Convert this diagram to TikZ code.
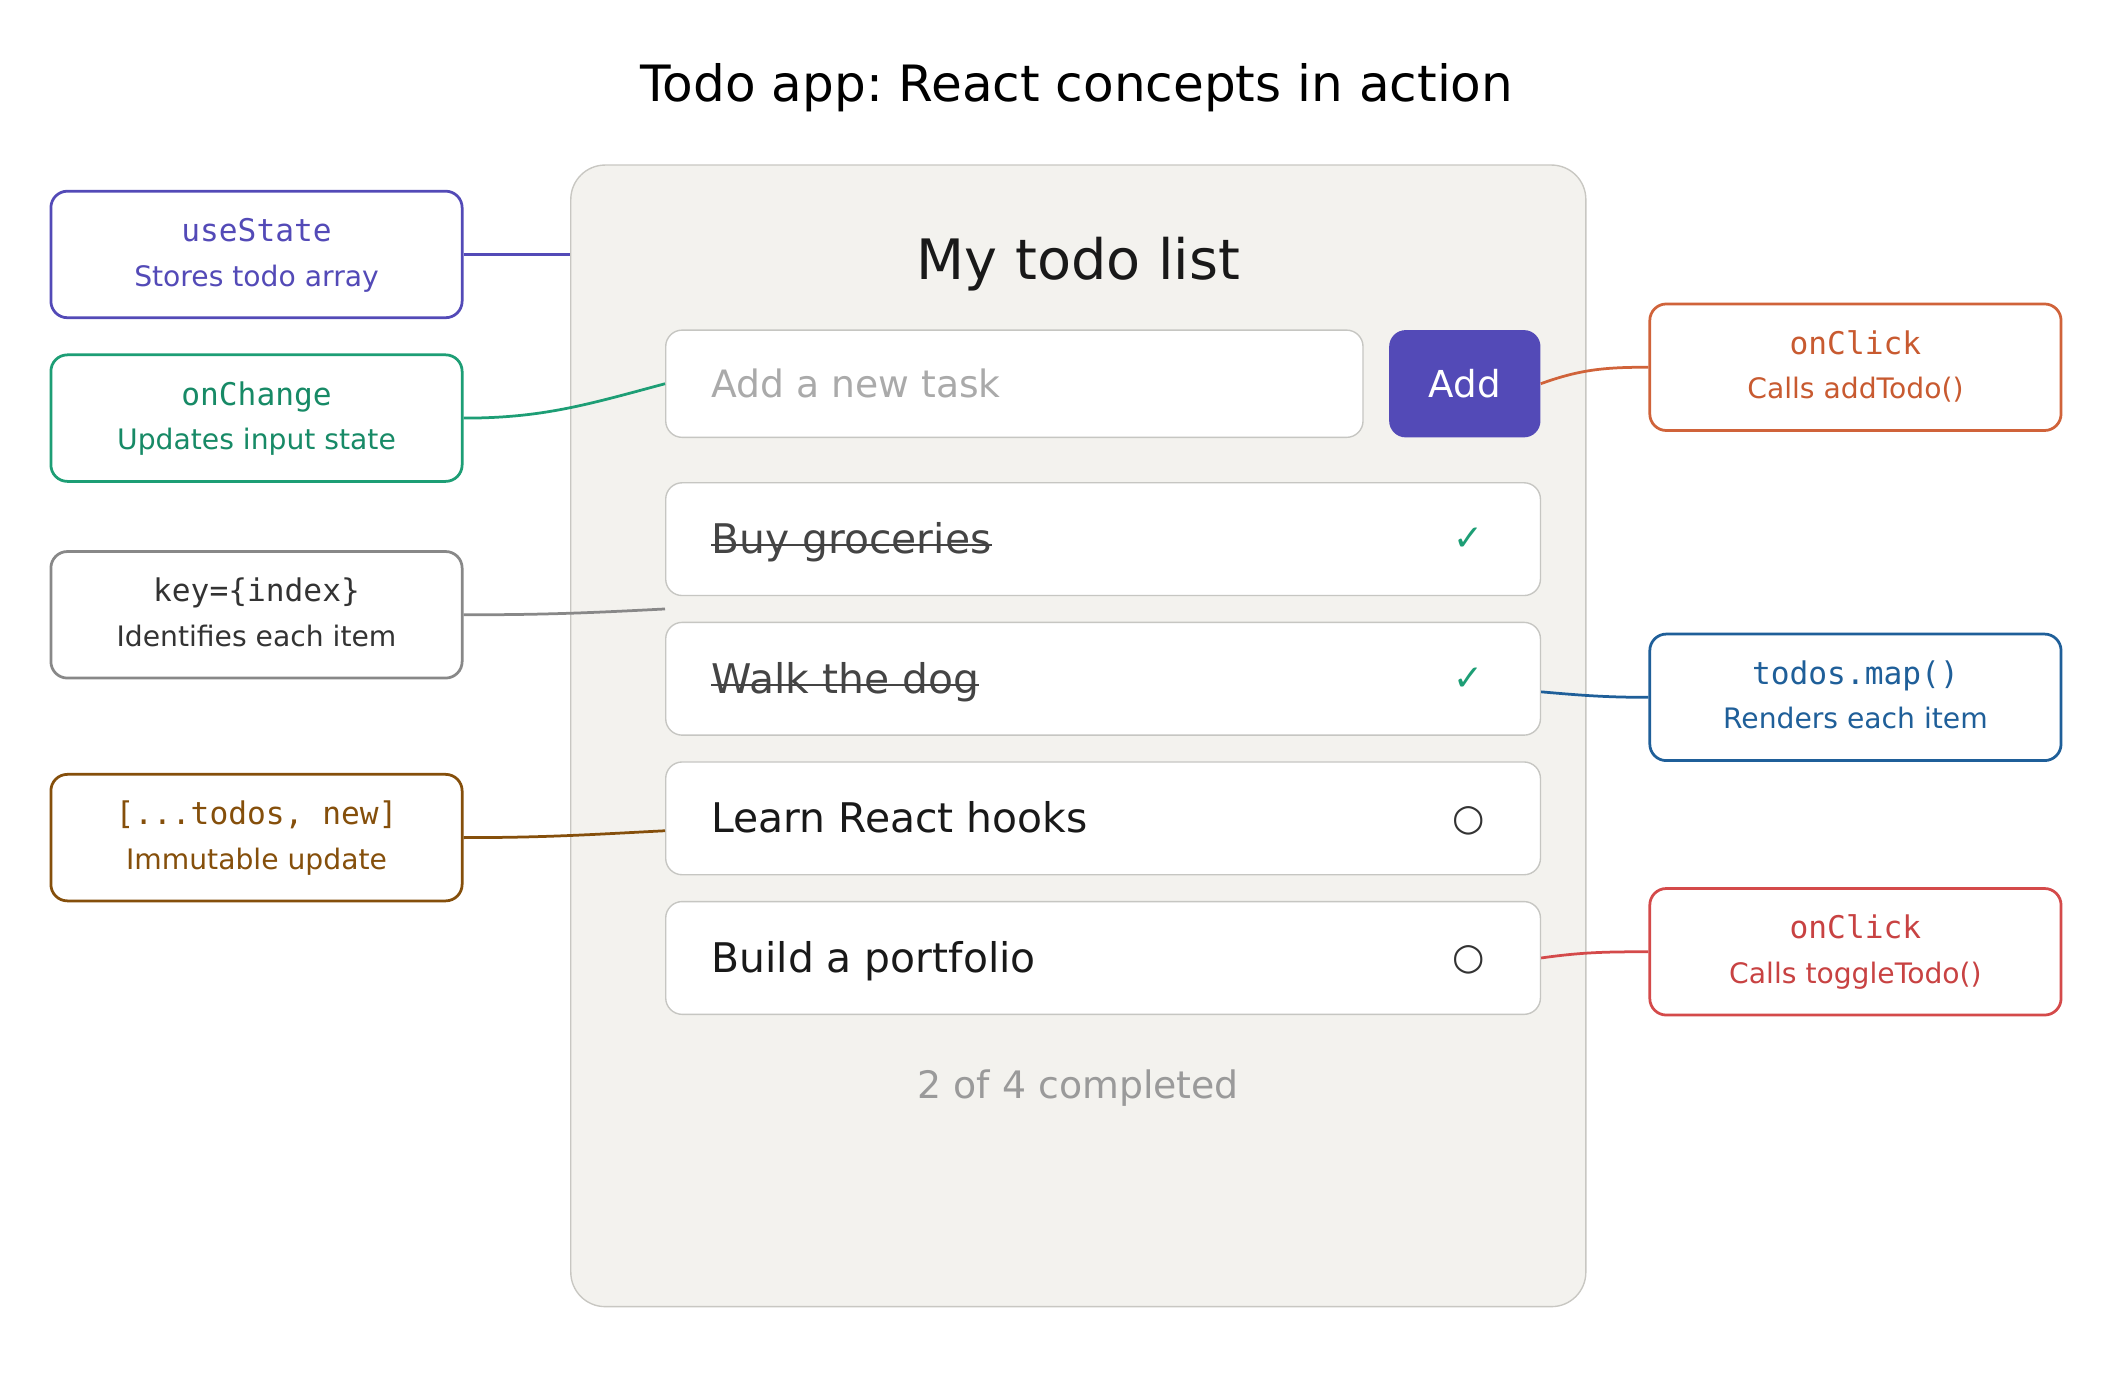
\documentclass[tikz,border=0pt]{standalone}
\usepackage{fontspec}
\setmainfont{DejaVu Sans}
\setmonofont{DejaVu Sans Mono}
\usetikzlibrary{calc}
\frenchspacing
\definecolor{cpurple}{HTML}{534AB7}
\definecolor{cgreen}{HTML}{1D9E75}
\definecolor{cgreent}{HTML}{178A66}
\definecolor{cgray}{HTML}{888888}
\definecolor{cgrayt}{HTML}{333333}
\definecolor{cbrown}{HTML}{854F0B}
\definecolor{corange}{HTML}{D0633A}
\definecolor{coranget}{HTML}{C85A30}
\definecolor{cblue}{HTML}{1F5F99}
\definecolor{cred}{HTML}{D44A4A}
\definecolor{credt}{HTML}{C84242}
\definecolor{panelfill}{HTML}{F3F2EE}
\definecolor{panelborder}{HTML}{C8C7C2}
\definecolor{itemborder}{HTML}{C6C6C2}
\definecolor{donetext}{HTML}{444444}
\definecolor{mutedtext}{HTML}{9A9A9A}
\definecolor{placeholder}{HTML}{AAAAAA}
\begin{document}
\frenchspacing
\begin{tikzpicture}[x=1pt,y=-1pt,
  fsz/.style={font=\fontsize{#1}{#1}\selectfont\frenchspacing},
  annot/.style={draw=#1, line width=2pt, rounded corners=12pt, fill=white,
    minimum width=299pt, minimum height=92pt, inner sep=0pt},
  todoitem/.style={draw=itemborder, line width=1pt, fill=white, rounded corners=12pt,
    minimum width=636pt, minimum height=82pt, inner sep=0pt},
  monolabel/.style={inner sep=0pt, anchor=base, font=\fontsize{22.7}{22.7}\selectfont\ttfamily, text=#1},
  sublabel/.style={inner sep=0pt, anchor=base, fsz=20.5, text=#1},
  itemtext/.style={inner sep=0pt, anchor=base west, fsz=29.7, text=#1},
  conn/.style={draw=#1, line width=2pt},
  checkmark/.style={inner sep=0pt, fsz=26, text=cgreen},
  openmark/.style={inner sep=0pt, fsz=27, text=cgrayt},
]
\useasboundingbox (0,0) rectangle (1545,1000);
\fill[white] (0,0) rectangle (1545,1000);

% title
\node[inner sep=0pt, anchor=base, fsz=36.4, text=black] (title) at (783,74) {Todo app: React concepts in action};

% panel
\node[draw=panelborder, fill=panelfill, line width=1pt, rounded corners=25pt,
  minimum width=738pt, minimum height=830pt, inner sep=0pt] (panel) at (784,535) {};
\node[inner sep=0pt, anchor=base, fsz=40.5, text=black!90] (heading) at (784,203) {My todo list};

% input + button
\node[draw=itemborder, line width=1pt, fill=white, rounded corners=12pt,
  minimum width=507pt, minimum height=78pt, inner sep=0pt] (input) at (737.5,279) {};
\node[inner sep=0pt, anchor=base west, fsz=27.4, text=placeholder] (ph) at (517,289) {Add a new task};
\node[fill=cpurple, rounded corners=12pt, minimum width=110pt, minimum height=78pt, inner sep=0pt] (addbtn) at (1065,279) {};
\node[inner sep=0pt, anchor=base, fsz=27, text=white] (addtxt) at (1065,289) {Add};

% items
\node[todoitem] (item1) at (802,392) {};
\node[todoitem] (item2) at (802,493.5) {};
\node[todoitem] (item3) at (802,595) {};
\node[todoitem] (item4) at (802,696.5) {};

\node[itemtext=donetext] (t1) at (517,402.5) {Buy groceries};
\draw[donetext, line width=1.6pt] ($(t1.base west)+(0,-6)$) -- ($(t1.base east)+(0,-6)$);
\node[itemtext=donetext] (t2) at (517,504) {Walk the dog};
\draw[donetext, line width=1.6pt] ($(t2.base west)+(0,-6)$) -- ($(t2.base east)+(0,-6)$);
\node[itemtext=black!90] (t3) at (517,605.5) {Learn React hooks};
\node[itemtext=black!90] (t4) at (517,707) {Build a portfolio};

\node[checkmark] (m1) at (1068,392) {✓};
\node[checkmark] (m2) at (1068,494) {✓};
\node[openmark] (m3) at (1068,597) {○};
\node[openmark] (m4) at (1068,698) {○};

\node[inner sep=0pt, anchor=base, fsz=27.5, text=mutedtext] (count) at (784,799) {2 of 4 completed};

% left annotations
\node[annot=cpurple] (usestate) at (186.5,185) {};
\node[monolabel=cpurple] at ($(usestate.center)+(0,-9.5)$) {useState};
\node[sublabel=cpurple] at ($(usestate.center)+(0,23)$) {Stores todo array};

\node[annot=cgreen] (onchange) at (186.5,304) {};
\node[monolabel=cgreent] at ($(onchange.center)+(0,-9.5)$) {onChange};
\node[sublabel=cgreent] at ($(onchange.center)+(0,23)$) {Updates input state};

\node[annot=cgray] (keyidx) at (186.5,447) {};
\node[monolabel=cgrayt] at ($(keyidx.center)+(0,-9.5)$) {key=\{index\}};
\node[sublabel=cgrayt] at ($(keyidx.center)+(0,23)$) {Identifies each item};

\node[annot=cbrown] (spread) at (186.5,609) {};
\node[monolabel=cbrown] at ($(spread.center)+(0,-9.5)$) {[...todos, new]};
\node[sublabel=cbrown] at ($(spread.center)+(0,23)$) {Immutable update};

% right annotations
\node[annot=corange] (onclickadd) at (1349,267) {};
\node[monolabel=coranget] at ($(onclickadd.center)+(0,-9.5)$) {onClick};
\node[sublabel=coranget] at ($(onclickadd.center)+(0,23)$) {Calls addTodo()};

\node[annot=cblue] (todosmap) at (1349,507) {};
\node[monolabel=cblue] at ($(todosmap.center)+(0,-9.5)$) {todos.map()};
\node[sublabel=cblue] at ($(todosmap.center)+(0,23)$) {Renders each item};

\node[annot=cred] (onclicktog) at (1349,692) {};
\node[monolabel=credt] at ($(onclicktog.center)+(0,-9.5)$) {onClick};
\node[sublabel=credt] at ($(onclicktog.center)+(0,23)$) {Calls toggleTodo()};

% connector end points
\coordinate (keygap) at ($(item1.south west)!0.5!(item2.north west)$);
\coordinate (spreadend) at ($(item3.west)+(0,9)$);
\coordinate (mapstart) at ($(item2.east)+(0,9.5)$);

% connectors
\draw[conn=cpurple] (usestate.east) -- (usestate.east -| panel.west);
\draw[conn=cgreen] (onchange.east) to[out=0,in=195] (input.west);
\draw[conn=cgray] (keyidx.east) to[out=0,in=183] (keygap);
\draw[conn=cbrown] (spread.east) to[out=0,in=183] (spreadend);
\draw[conn=corange] (addbtn.east) to[out=20,in=180] (onclickadd.west);
\draw[conn=cblue] (mapstart) to[out=-5,in=180] (todosmap.west);
\draw[conn=cred] (item4.east) to[out=8,in=180] (onclicktog.west);
\end{tikzpicture}
\end{document}
